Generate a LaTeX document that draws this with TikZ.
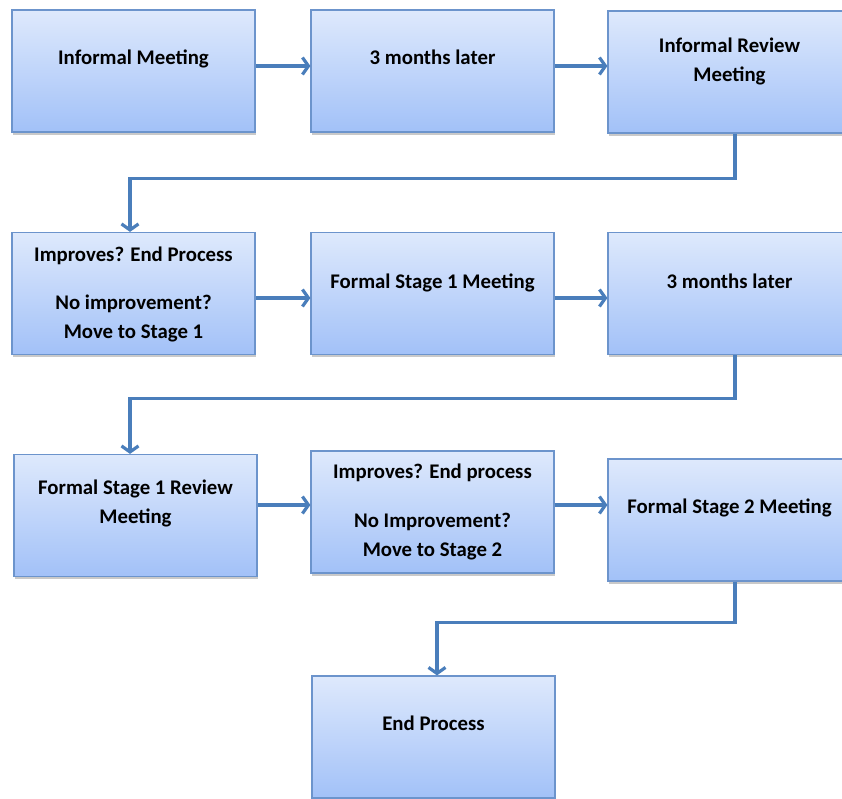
\documentclass[tikz,border=0pt]{standalone}
\usepackage{fontspec}
\setmainfont{Carlito}
\usetikzlibrary{arrows.meta,shadows}

\definecolor{boxtop}{RGB}{222,233,252}
\definecolor{boxbottom}{RGB}{162,193,248}
\definecolor{boxline}{RGB}{108,148,204}
\definecolor{linkblue}{RGB}{74,126,187}

\newcommand{\boxtext}[2]{\parbox[c][122pt][t]{243pt}{\centering\vspace*{#1}#2}}

\begin{document}
\begin{tikzpicture}
[x=1pt, y=-1pt,
 every node/.style={inner sep=0pt},
 box/.style={rectangle, minimum width=243pt, minimum height=122pt, top color=boxtop, bottom color=boxbottom, draw=boxline, line width=1.2pt, drop shadow={shadow xshift=1pt, shadow yshift=-2.5pt, opacity=0.3, fill=black!70}, font=\fontsize{20.8}{29}\selectfont\bfseries},
 link/.style={line width=3.2pt, color=linkblue, -{Straight Barb[length=6pt, width=17pt]}}]
\useasboundingbox (0,0) rectangle (842,798);
\clip (0,0) rectangle (842,798);
\node (informal) [box] at (133.5, 71) {\boxtext{40pt}{Informal Meeting}};
\node (later1) [box] at (432.5, 71) {\boxtext{40pt}{3 months later}};
\node (review) [box] at (729.5, 72) {\boxtext{27pt}{Informal Review\\ Meeting}};
\node (decide1) [box] at (133.5, 293.5) {\boxtext{14pt}{Improves? End Process\\[19pt] No improvement?\\ Move to Stage 1}};
\node (stage1) [box] at (432.5, 293.5) {\boxtext{41pt}{Formal Stage 1 Meeting}};
\node (later2) [box] at (729.5, 293.5) {\boxtext{41pt}{3 months later}};
\node (review1) [box] at (135.5, 515.5) {\boxtext{25pt}{Formal Stage 1 Review\\ Meeting}};
\node (decide2) [box] at (432.5, 512) {\boxtext{13pt}{Improves? End process\\[20pt] No Improvement?\\ Move to Stage 2}};
\node (stage2) [box] at (729.5, 520) {\boxtext{40pt}{Formal Stage 2 Meeting}};
\node (end) [box] at (433.5, 737) {\boxtext{40pt}{End Process}};
% row links
\draw [link] ([yshift=5pt]informal.east) -- ([yshift=5pt]later1.west);
\draw [link] ([yshift=5pt]later1.east) -- ([yshift=6pt]review.west);
\draw [link] ([yshift=-4.5pt]decide1.east) -- ([yshift=-4.5pt]stage1.west);
\draw [link] ([yshift=-4.5pt]stage1.east) -- ([yshift=-4.5pt]later2.west);
\draw [link] ([yshift=10.5pt]review1.east) -- ([yshift=7pt]decide2.west);
\draw [link] ([yshift=7pt]decide2.east) -- ([yshift=15pt]stage2.west);
% turn links
\draw [link] ([xshift=5.5pt]review.south) -- ++(0,45) -| ([xshift=-3.5pt]decide1.north);
\draw [link] ([xshift=5.5pt]later2.south) -- ++(0,43) -| ([xshift=-5.5pt]review1.north);
\draw [link] ([xshift=5.5pt]stage2.south) -- ++(0,41) -| ([xshift=3.5pt]end.north);
\end{tikzpicture}
\end{document}
